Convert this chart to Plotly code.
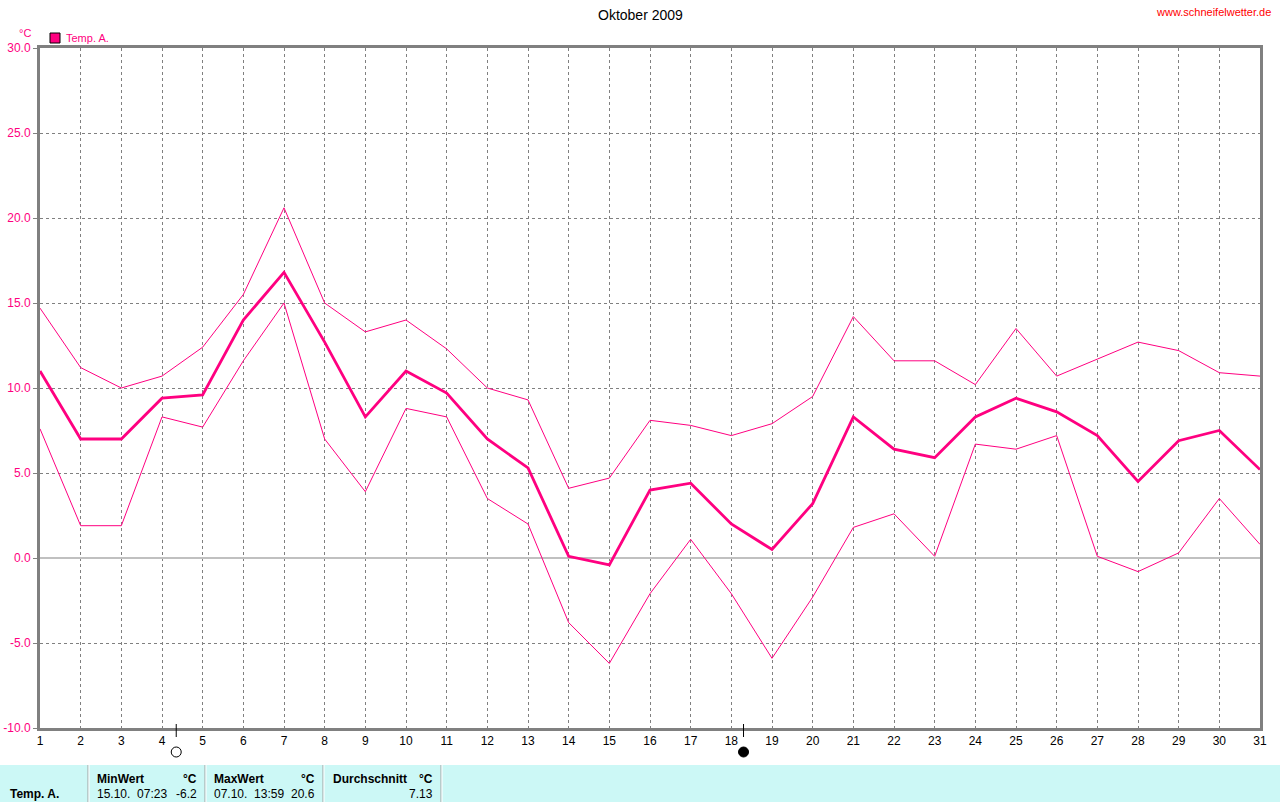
import plotly.graph_objects as go

# ---------------- data ----------------
days = list(range(1, 32))
temp_mean = [11.0, 7.0, 7.0, 9.4, 9.6, 14.0, 16.8, 12.7, 8.3, 11.0,
             9.7, 7.0, 5.3, 0.1, -0.4, 4.0, 4.4, 2.0, 0.5, 3.2,
             8.3, 6.4, 5.9, 8.3, 9.4, 8.6, 7.2, 4.5, 6.9, 7.5, 5.2]
temp_max = [14.7, 11.2, 10.0, 10.7, 12.4, 15.5, 20.6, 15.0, 13.3, 14.0,
            12.3, 10.0, 9.3, 4.1, 4.7, 8.1, 7.8, 7.2, 7.9, 9.5,
            14.2, 11.6, 11.6, 10.2, 13.5, 10.7, 11.7, 12.7, 12.2, 10.9, 10.7]
temp_min = [7.6, 1.9, 1.9, 8.3, 7.7, 11.6, 15.0, 7.0, 3.9, 8.8,
            8.3, 3.5, 2.0, -3.8, -6.2, -2.1, 1.1, -2.1, -5.9, -2.3,
            1.8, 2.6, 0.1, 6.7, 6.4, 7.2, 0.1, -0.8, 0.3, 3.5, 0.8]
y_ticks = [-10, -5, 0, 5, 10, 15, 20, 25, 30]
y_tick_labels = ["-10.0", "-5.0", "0.0", "5.0", "10.0", "15.0", "20.0", "25.0", "30.0"]
moon_full_day = 4.35
moon_new_day = 18.3

title_text = "Oktober 2009"
site_text = "www.schneifelwetter.de"
series_name = "Temp. A."
unit = "°C"
table_headers = ["MinWert", "MaxWert", "Durchschnitt"]
table_dates = ["15.10.  07:23", "07.10.  13:59", ""]
table_values = ["-6.2", "20.6", "7.13"]

# ---------------- styling ----------------
PINK = "#FF0080"
GRID = "#808080"
FONT = "Liberation Sans, Arial, sans-serif"
W, H = 1280, 802
L, R, T, B = 40, 1260, 48, 728


def px(xp):
    return (xp - L) / (R - L)


def py(yp):
    return (B - yp) / (B - T)


def txt(text, x, y, xanchor="center", size=12, color="black"):
    return dict(text=text, x=px(x), y=py(y), xref="paper", yref="paper",
                xanchor=xanchor, yanchor="middle", showarrow=False,
                font=dict(size=size, color=color, family=FONT))


fig = go.Figure()
fig.add_trace(go.Scatter(x=days, y=temp_max, mode="lines",
                         line=dict(color=PINK, width=1), showlegend=False, hoverinfo="skip"))
fig.add_trace(go.Scatter(x=days, y=temp_min, mode="lines",
                         line=dict(color=PINK, width=1), showlegend=False, hoverinfo="skip"))
fig.add_trace(go.Scatter(x=days, y=temp_mean, mode="lines",
                         line=dict(color=PINK, width=2.8), showlegend=False, hoverinfo="skip"))

fig.update_layout(
    width=W, height=H,
    margin=dict(l=L, r=W - R, t=T, b=H - B, autoexpand=False),
    paper_bgcolor="white", plot_bgcolor="white",
    font=dict(family=FONT, size=12, color="black"),
    showlegend=False,
)
fig.update_xaxes(
    range=[1, 31], tickmode="array", tickvals=days, ticktext=[str(d) for d in days],
    showgrid=True, gridcolor=GRID, griddash="3px,3px", gridwidth=1,
    showline=True, linecolor=GRID, linewidth=3, mirror=True,
    ticks="", tickfont=dict(family=FONT, size=12, color="black"), zeroline=False,
    automargin=False,
)
fig.update_yaxes(
    range=[-10, 30], tickmode="array", tickvals=y_ticks, ticktext=y_tick_labels,
    showgrid=True, gridcolor=GRID, griddash="3px,3px", gridwidth=1,
    showline=True, linecolor=GRID, linewidth=3, mirror=True,
    ticks="outside", ticklen=4, tickcolor=GRID, tickwidth=1,
    tickfont=dict(family=FONT, size=12, color=PINK),
    zeroline=True, zerolinecolor="#C0C0C0", zerolinewidth=2,
    automargin=False,
)

shapes = []
annotations = []

# title and site
annotations.append(txt(title_text, 640, 15, size=14))
annotations.append(txt(site_text, 1273, 12, xanchor="right", size=11, color="#FF0000"))
# unit label and legend
annotations.append(txt(unit, 25, 33, size=11, color=PINK))
shapes.append(dict(type="rect", xref="paper", yref="paper", x0=px(50), x1=px(60), y0=py(43), y1=py(33),
                   fillcolor=PINK, line=dict(color="black", width=1)))
annotations.append(txt(series_name, 64, 38, xanchor="left", size=11, color=PINK))

# moon markers
for d, filled in [(moon_full_day, False), (moon_new_day, True)]:
    shapes.append(dict(type="line", xref="x", yref="paper", x0=d, x1=d, y0=py(724), y1=py(737),
                       line=dict(color="black", width=1)))
    shapes.append(dict(type="circle", xref="x", yref="paper", xsizemode="pixel", ysizemode="pixel",
                       xanchor=d, yanchor=py(752), x0=-5, x1=5, y0=-5, y1=5,
                       fillcolor="black" if filled else "white", line=dict(color="black", width=1)))

# bottom table
shapes.append(dict(type="rect", xref="paper", yref="paper", x0=px(0), x1=px(1280), y0=py(802), y1=py(765),
                   fillcolor="#CCF8F6", line=dict(width=0), layer="below"))
for sx in [88, 205, 323, 441]:
    shapes.append(dict(type="line", xref="paper", yref="paper", x0=px(sx), x1=px(sx), y0=py(802), y1=py(765),
                       line=dict(color="#A0A0A0", width=1)))
    shapes.append(dict(type="line", xref="paper", yref="paper", x0=px(sx + 1), x1=px(sx + 1), y0=py(802), y1=py(765),
                       line=dict(color="#FFFFFF", width=1)))

annotations.append(txt("<b>" + series_name + "</b>", 8, 794, xanchor="left"))
col_left = [95, 212, 331]
col_right = [199, 317, 435]
for i in range(3):
    annotations.append(txt("<b>" + table_headers[i] + "</b>", col_left[i], 779, xanchor="left"))
    annotations.append(txt("<b>" + unit + "</b>", col_right[i], 779, xanchor="right"))
    if table_dates[i]:
        annotations.append(txt(table_dates[i], col_left[i], 794, xanchor="left"))
    annotations.append(txt(table_values[i], col_right[i], 794, xanchor="right"))

fig.update_layout(shapes=shapes, annotations=annotations)
fig.write_html("out.html", config={"displayModeBar": False},
               post_script="document.body.style.margin='0';document.body.style.padding='0';")
